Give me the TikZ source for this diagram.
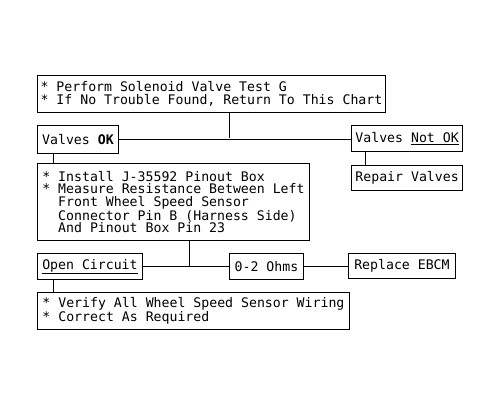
\documentclass[tikz,border=0pt]{standalone}
\usepackage{fontspec}
\setmainfont{DejaVu Sans Mono}
\usepackage{tikz}
\usetikzlibrary{positioning}

\begin{document}
\begin{tikzpicture}[x=1pt,y=-1pt, line width=0.9pt,
  font=\fontsize{13.2}{12.5}\selectfont,
  box/.style={draw, anchor=north west, inner xsep=3pt, inner ysep=2pt, align=left},
  tag/.style={draw, anchor=north west, inner xsep=4pt, inner ysep=0pt}]
\useasboundingbox (0,0) rectangle (500,405);
% test box
\node[box, minimum width=348pt, minimum height=37pt] (test) at (37,75)
{* Perform Solenoid Valve Test G\\\relax* If No Trouble Found, Return To This Chart};
%
\node[tag, minimum width=81pt, minimum height=28pt] (ok) at (37,125) {Valves \textbf{OK}};
\node[tag, minimum width=108pt, minimum height=26pt] (notok) at (351,125) {Valves \underline{Not OK}};
\node[tag, minimum width=109pt, minimum height=25pt] (repair) at (351,165) {Repair Valves};
\coordinate (j1) at (229,138);
\draw (test.south -| j1) -- (j1);
\draw (ok.east) -- (ok.east -| notok.west);
\draw ([xshift=14pt]notok.south west) -- ([xshift=14pt]notok.south west |- repair.north);
% pinout box
\node[box, minimum width=272pt, minimum height=77pt] (pinout) at (37,163)
{* Install J-35592 Pinout Box\\\relax* Measure Resistance Between Left\\
\phantom{* }Front Wheel Speed Sensor\\\phantom{* }Connector Pin B (Harness Side)\\
\phantom{* }And Pinout Box Pin 23};
\draw ([xshift=16pt]ok.south west) -- ([xshift=16pt]ok.south west |- pinout.north);
%
\node[tag, minimum width=105pt, minimum height=26pt] (open) at (37,253) {\underline{Open Circuit}};
\node[tag, minimum width=74pt, minimum height=26pt] (ohms) at (229,253) {0-2 Ohms};
\node[tag, minimum width=107pt, minimum height=25pt] (ebcm) at (348,253) {Replace EBCM};
\coordinate (j2) at (189,266);
\draw (pinout.south -| j2) -- (j2);
\draw (open.east) -- (ohms.west);
\draw (ohms.east) -- (ohms.east -| ebcm.west);
% wiring box
\node[box, minimum width=312pt, minimum height=37pt] (wiring) at (37,292)
{* Verify All Wheel Speed Sensor Wiring\\\relax* Correct As Required};
\draw ([xshift=16pt]open.south west) -- ([xshift=16pt]open.south west |- wiring.north);
\end{tikzpicture}
\end{document}
